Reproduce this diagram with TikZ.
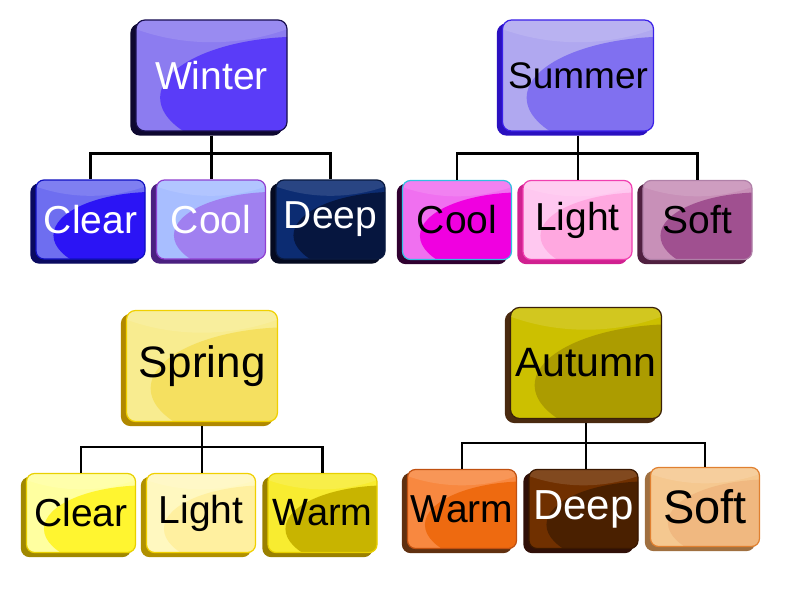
\documentclass[tikz,border=0pt]{standalone}
\usepackage{fontspec}
\setmainfont{Liberation Sans}
\usetikzlibrary{calc, shadows}

% Farben: L = hell, D = Glanzellipse, E = Rand, S = Schatten
\definecolor{winterL}{HTML}{8C7CF0}\definecolor{winterD}{HTML}{5A3CF8}
\definecolor{winterE}{HTML}{1A1050}\definecolor{winterS}{HTML}{0E0830}
\definecolor{wclearL}{HTML}{6E6EF0}\definecolor{wclearD}{HTML}{2B14F5}
\definecolor{wclearE}{HTML}{1010C0}\definecolor{wclearS}{HTML}{0A0A60}
\definecolor{wcoolL}{HTML}{A8BEFF}\definecolor{wcoolD}{HTML}{A080F0}
\definecolor{wcoolE}{HTML}{9040D0}\definecolor{wcoolS}{HTML}{4A2080}
\definecolor{wdeepL}{HTML}{0C2C72}\definecolor{wdeepD}{HTML}{06163F}
\definecolor{wdeepE}{HTML}{0A1A40}\definecolor{wdeepS}{HTML}{050A20}
\definecolor{summerL}{HTML}{B0A8F0}\definecolor{summerD}{HTML}{8070F0}
\definecolor{summerE}{HTML}{3A20E8}\definecolor{summerS}{HTML}{2A10C0}
\definecolor{scoolL}{HTML}{F070F0}\definecolor{scoolD}{HTML}{F000E0}
\definecolor{scoolE}{HTML}{30C0E0}\definecolor{scoolS}{HTML}{300030}
\definecolor{slightL}{HTML}{FFC8F0}\definecolor{slightD}{HTML}{FFA8E0}
\definecolor{slightE}{HTML}{F040B0}\definecolor{slightS}{HTML}{D02090}
\definecolor{ssoftL}{HTML}{C890B8}\definecolor{ssoftD}{HTML}{A05090}
\definecolor{ssoftE}{HTML}{B080A8}\definecolor{ssoftS}{HTML}{502040}
\definecolor{springL}{HTML}{F8EC90}\definecolor{springD}{HTML}{F5E060}
\definecolor{springE}{HTML}{F0D000}\definecolor{springS}{HTML}{B08800}
\definecolor{pclearL}{HTML}{FFFFA0}\definecolor{pclearD}{HTML}{FFF530}
\definecolor{pclearE}{HTML}{E8D000}\definecolor{pclearS}{HTML}{A08800}
\definecolor{plightL}{HTML}{FFF8C0}\definecolor{plightD}{HTML}{FFF0A0}
\definecolor{plightE}{HTML}{F0D000}\definecolor{plightS}{HTML}{B09000}
\definecolor{pwarmL}{HTML}{F8EC30}\definecolor{pwarmD}{HTML}{C8B400}
\definecolor{pwarmE}{HTML}{E8D000}\definecolor{pwarmS}{HTML}{9A8000}
\definecolor{autumnL}{HTML}{CCC000}\definecolor{autumnD}{HTML}{AC9C00}
\definecolor{autumnE}{HTML}{3A2008}\definecolor{autumnS}{HTML}{4A2A10}
\definecolor{awarmL}{HTML}{F88840}\definecolor{awarmD}{HTML}{EE6A10}
\definecolor{awarmE}{HTML}{C05010}\definecolor{awarmS}{HTML}{603010}
\definecolor{adeepL}{HTML}{703000}\definecolor{adeepD}{HTML}{4A2000}
\definecolor{adeepE}{HTML}{3A1800}\definecolor{adeepS}{HTML}{301008}
\definecolor{asoftL}{HTML}{F5C890}\definecolor{asoftD}{HTML}{F0B880}
\definecolor{asoftE}{HTML}{E08030}\definecolor{asoftS}{HTML}{A07040}

\tikzset{
	gloss/.style = {rectangle, rounded corners=9pt, inner sep=0pt, fill=#1L, draw=#1E, line width=1.2pt,
		copy shadow={shadow xshift=-5pt, shadow yshift=-4pt, fill=#1S, draw=#1S},
		path picture={
			\fill[white, opacity=0.12] let \p1=(path picture bounding box.south west), \p2=(path picture bounding box.north east) in
				({\x1+0.5*(\x2-\x1)},{\y2+1.1*(\y2-\y1)}) ellipse [x radius={1.2*(\x2-\x1)}, y radius={1.3*(\y2-\y1)}];
			\fill[#1D] let \p1=(path picture bounding box.south west), \p2=(path picture bounding box.north east) in
				({\x1+1.1*(\x2-\x1)},{\y1+0.3*(\y2-\y1)}) ellipse [x radius={0.94*(\x2-\x1)}, y radius={0.55*(\y2-\y1)}];
		}},
	parent/.style = {gloss=#1, minimum width=151pt, minimum height=111pt, font=\fontsize{39}{44}\selectfont},
	leaf/.style = {gloss=#1, rounded corners=8pt, minimum width=109pt, minimum height=79pt, font=\fontsize{39}{44}\selectfont},
	link/.style = {line width=2.5pt, black}
}

\begin{document}
\begin{tikzpicture}[x=1pt, y=-1pt]
	\fill[white] (0,0) rectangle (800,591);
	\useasboundingbox (0,0) rectangle (800,591);

	% Winter
	\node[parent=winter, text=white] (winter) at (211.5,75.5) {Winter};
	\node[leaf=wclear, text=white] (wclear) at (90.5,219.5) {Clear};
	\node[leaf=wcool, text=white] (wcool) at (211,219.5) {Cool};
	\node[leaf=wdeep, text=white] (wdeep) at (330.5,219.5) {Deep};

	% Summer
	\node[parent=summer, font=\fontsize{37}{44}\selectfont] (summer) at (578,75.5) {Summer};
	\node[leaf=scool] (scool) at (457,220) {Cool};
	\node[leaf=slight] (slight) at (577.5,220) {Light};
	\node[leaf=ssoft] (ssoft) at (697.5,220) {Soft};

	% Spring
	\node[parent=spring, font=\fontsize{44}{50}\selectfont] (spring) at (202,366) {Spring};
	\node[leaf=pclear] (pclear) at (81,513) {Clear};
	\node[leaf=plight] (plight) at (201,513) {Light};
	\node[leaf=pwarm, font=\fontsize{38}{44}\selectfont] (pwarm) at (322.5,513) {Warm};

	% Autumn
	\node[parent=autumn, font=\fontsize{41}{46}\selectfont] (autumn) at (586,363) {Autumn};
	\node[leaf=awarm] (awarm) at (462,509) {Warm};
	\node[leaf=adeep, text=white, font=\fontsize{42}{48}\selectfont] (adeep) at (583.5,509) {Deep};
	\node[leaf=asoft, font=\fontsize{47}{52}\selectfont] (asoft) at (705,507) {Soft};

	% Verbindungen
	\draw[link] ([yshift=-4pt]winter.south) -- ++(0,18) -| (wclear.north);
	\draw[link] ([yshift=-4pt]winter.south) ++(0,18) -| (wdeep.north);
	\draw[link] ([yshift=-4pt]winter.south) -- (winter.south |- wcool.north);

	\draw[link] ([yshift=-4pt]summer.south) -- ++(0,18) -| (scool.north);
	\draw[link] ([yshift=-4pt]summer.south) ++(0,18) -| (ssoft.north);
	\draw[link] ([yshift=-4pt]summer.south) -- (summer.south |- slight.north);

	\draw[link] ([yshift=-4pt]spring.south) -- ++(0,21) -| (pclear.north);
	\draw[link] ([yshift=-4pt]spring.south) ++(0,21) -| (pwarm.north);
	\draw[link] ([yshift=-4pt]spring.south) -- (spring.south |- plight.north);

	\draw[link] ([yshift=-4pt]autumn.south) -- ++(0,20) -| (awarm.north);
	\draw[link] ([yshift=-4pt]autumn.south) ++(0,20) -| (asoft.north);
	\draw[link] ([yshift=-4pt]autumn.south) -- (autumn.south |- adeep.north);
\end{tikzpicture}
\end{document}
